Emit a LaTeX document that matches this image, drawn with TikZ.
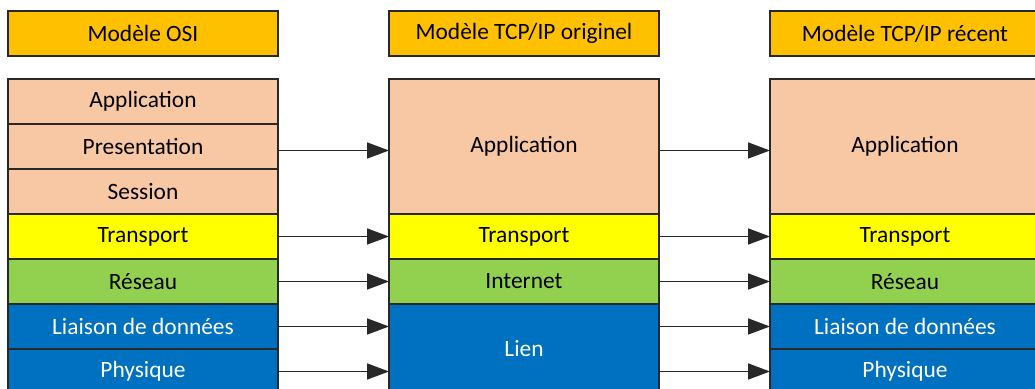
\documentclass[tikz,border=0pt]{standalone}
\usepackage{fontspec}
\setmainfont{Carlito}
\usetikzlibrary{positioning}
\usetikzlibrary{arrows.meta}
\definecolor{titre}{RGB}{255,192,0}
\definecolor{appli}{RGB}{248,200,164}
\definecolor{transp}{RGB}{255,255,0}
\definecolor{reseau}{RGB}{146,208,80}
\definecolor{liaison}{RGB}{0,112,192}
\definecolor{trait}{RGB}{40,40,40}

\begin{document}
\begin{tikzpicture}[x=0.5pt, y=-0.5pt,
    every node/.style = {minimum width = 135pt, minimum height = 22.5pt, draw=trait, line width=0.7pt,
      rectangle, outer sep=0pt, font=\fontsize{11.7}{14}\selectfont},
    fleche/.style = {-{Triangle[length=11pt, width=8pt]}, line width=0.8pt, draw=trait}
    ]
    \useasboundingbox (0,0) rectangle (1035,389);
    % titres
    \node[fill=titre] (t1) at (143,33.5) {Modèle OSI};
    \node[fill=titre] (t2) [right=55.5pt of t1] {Modèle TCP/IP originel};
    \node[fill=titre] (t3) [right=55.5pt of t2] {Modèle TCP/IP récent};
    % modele OSI
    \node[fill=appli] (1) at (143,101.5) {Application};
    \node[fill=appli] (2) [below=0pt of 1] {Presentation};
    \node[fill=appli] (3) [below=0pt of 2] {Session};
    \node[fill=transp] (4) [below=0pt of 3] {Transport};
    \node[fill=reseau] (5) [below=0pt of 4] {Réseau};
    \node[fill=liaison, text=white] (6) [below=0pt of 5] {Liaison de données};
    \node[fill=liaison, text=white] (7) [below=0pt of 6] {Physique};
    % TCP/IP originel
    \node[fill=appli, minimum height=67.5pt] (a) [right=55.5pt of 2] {Application};
    \node[fill=transp] (b) [below=0pt of a] {Transport};
    \node[fill=reseau] (c) [below=0pt of b] {Internet};
    \node[fill=liaison, text=white, minimum height=45pt] (d) [below=0pt of c] {Lien};
    % TCP/IP recent
    \node[fill=appli, minimum height=67.5pt] (r1) [right=55.5pt of a] {Application};
    \node[fill=transp] (r2) [below=0pt of r1] {Transport};
    \node[fill=reseau] (r3) [below=0pt of r2] {Réseau};
    \node[fill=liaison, text=white] (r4) [below=0pt of r3] {Liaison de données};
    \node[fill=liaison, text=white] (r5) [below=0pt of r4] {Physique};
    % fleches
    \draw[fleche] ([yshift=-2pt]2.east) -- ([yshift=-2pt]a.west);
    \draw[fleche] (4) -- (b);
    \draw[fleche] (5) -- (c);
    \draw[fleche] (6) -- (6 -| d.west);
    \draw[fleche] (7) -- (7 -| d.west);
    \draw[fleche] ([yshift=-2pt]a.east) -- ([yshift=-2pt]r1.west);
    \draw[fleche] (b) -- (r2);
    \draw[fleche] (c) -- (r3);
    \draw[fleche] (d.east |- r4) -- (r4);
    \draw[fleche] (d.east |- r5) -- (r5);
\end{tikzpicture}
\end{document}
